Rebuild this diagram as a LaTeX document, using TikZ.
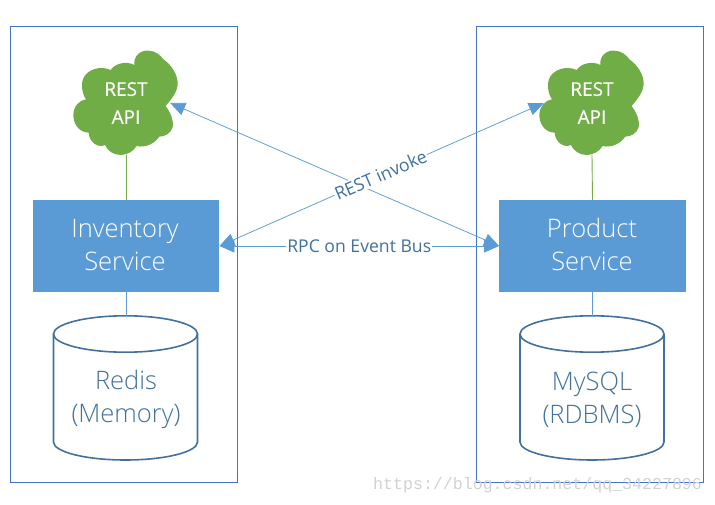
\documentclass[tikz,border=0pt]{standalone}
\usepackage{fontspec}
\setmainfont{Open Sans}
\newfontfamily\lightf{Open Sans Light}
\newfontfamily\semif[FakeBold=0.3]{Open Sans}
\newfontfamily\markf{Liberation Mono}
\usetikzlibrary{arrows.meta}
\definecolor{framecol}{HTML}{4472C4}
\definecolor{bluecol}{HTML}{5B9BD5}
\definecolor{greencol}{HTML}{70AD47}
\definecolor{darkcol}{HTML}{41719C}
\newcommand{\cloudshape}[2]{%
  \fill[greencol,shift={(#1-126,#2-83)},scale=0.3333]
    (403,135) .. controls (400,105) and (425,90) .. (445,92)
    .. controls (465,92) and (482,105) .. (490,118)
    .. controls (515,135) and (535,165) .. (533,195)
    .. controls (530,220) and (512,240) .. (497,258)
    .. controls (510,275) and (522,300) .. (518,322)
    .. controls (512,340) and (495,350) .. (478,350)
    .. controls (465,370) and (435,385) .. (410,378)
    .. controls (400,395) and (380,405) .. (362,405)
    .. controls (340,405) and (322,392) .. (315,375)
    .. controls (295,385) and (268,368) .. (266,338)
    .. controls (240,338) and (220,315) .. (220,285)
    .. controls (220,260) and (238,240) .. (258,238)
    .. controls (245,220) and (243,190) .. (250,175)
    .. controls (260,150) and (300,135) .. (332,150)
    .. controls (345,130) and (380,122) .. (403,135) -- cycle;}
\newcommand{\storeshape}[1]{%
  \draw[store] (#1-72,334) -- (#1-72,442)
    arc[start angle=180,end angle=360,x radius=72pt,y radius=18pt] -- (#1+72,334);
  \draw[store] (#1,334) ellipse [x radius=72pt,y radius=18.2pt];}
\tikzset{
  x=1pt,y=-1pt,
  frame/.style={draw=framecol,line width=1pt},
  service/.style={fill=bluecol,minimum width=186.5pt,minimum height=92pt,inner sep=0pt},
  servicetext/.style={text=white,align=center,font=\lightf\fontsize{25.5}{33}\selectfont,inner sep=0pt},
  apitext/.style={text=white,align=center,font=\semif\fontsize{19}{28}\selectfont,minimum height=104pt,inner sep=0pt},
  store/.style={draw=darkcol,line width=1.6pt},
  storetext/.style={align=center,text=darkcol,font=\lightf\fontsize{25.5}{33}\selectfont,inner sep=0pt},
  link/.style={draw=bluecol,line width=0.75pt,{Triangle[length=15pt,width=13pt]}-{Triangle[length=15pt,width=13pt]}},
  label/.style={text=darkcol,fill=white,inner sep=1pt},
}
\begin{document}
\begin{tikzpicture}
\useasboundingbox (0,0) rectangle (715,505);
\node[frame,minimum width=226.5pt,minimum height=456pt,inner sep=0pt] (boxL) at (123.75,254.5) {};
\node[frame,minimum width=226.5pt,minimum height=456pt,inner sep=0pt] (boxR) at (589.75,254.5) {};
\cloudshape{126}{103}
\cloudshape{592}{103}
\node[apitext,minimum width=88pt] (cloudL) at (126,103) {REST\\API};
\node[apitext,minimum width=96pt] (cloudR) at (592,103) {REST\\API};
\node[service] (invS) at (126,246) {};
\node[service] (prodS) at (592.5,246) {};
\node[servicetext] (invT) at (125,245.5) {Inventory\\Service};
\node[servicetext] (prodT) at (592,244.5) {Product\\Service};
\storeshape{125.5}
\storeshape{592}
\coordinate (redisTop) at (126,316);
\coordinate (mysqlTop) at (592.5,316);
\node[storetext] (redisT) at (126,399.5) {Redis\\(Memory)};
\node[storetext] (mysqlT) at (592,399.5) {MySQL\\(RDBMS)};
\draw[greencol,line width=0.9pt] (cloudL.south) -- (invS.north);
\draw[greencol,line width=0.9pt] (cloudR.south) -- (prodS.north);
\draw[bluecol,line width=0.9pt] (invS.south) -- (redisTop);
\draw[bluecol,line width=0.9pt] (prodS.south) -- (mysqlTop);
\draw[link] (cloudL.east) -- (prodS.west);
\draw[link] (invS.east) -- (cloudR.west)
  node[label,pos=0.497,rotate=23.4,font=\fontsize{17.7}{20}\selectfont] (restlab) {REST invoke};
\draw[link] (invS.east) -- (prodS.west)
  node[label,midway,font=\fontsize{17.6}{20}\selectfont] (rpclab) {RPC on Event Bus};
\node[text=black!18,font=\markf\fontsize{16.6}{20}\selectfont,anchor=west,inner sep=0pt] (mark) at (373,485) {https://blog.csdn.net/qq\_34227896};
\end{tikzpicture}
\end{document}
